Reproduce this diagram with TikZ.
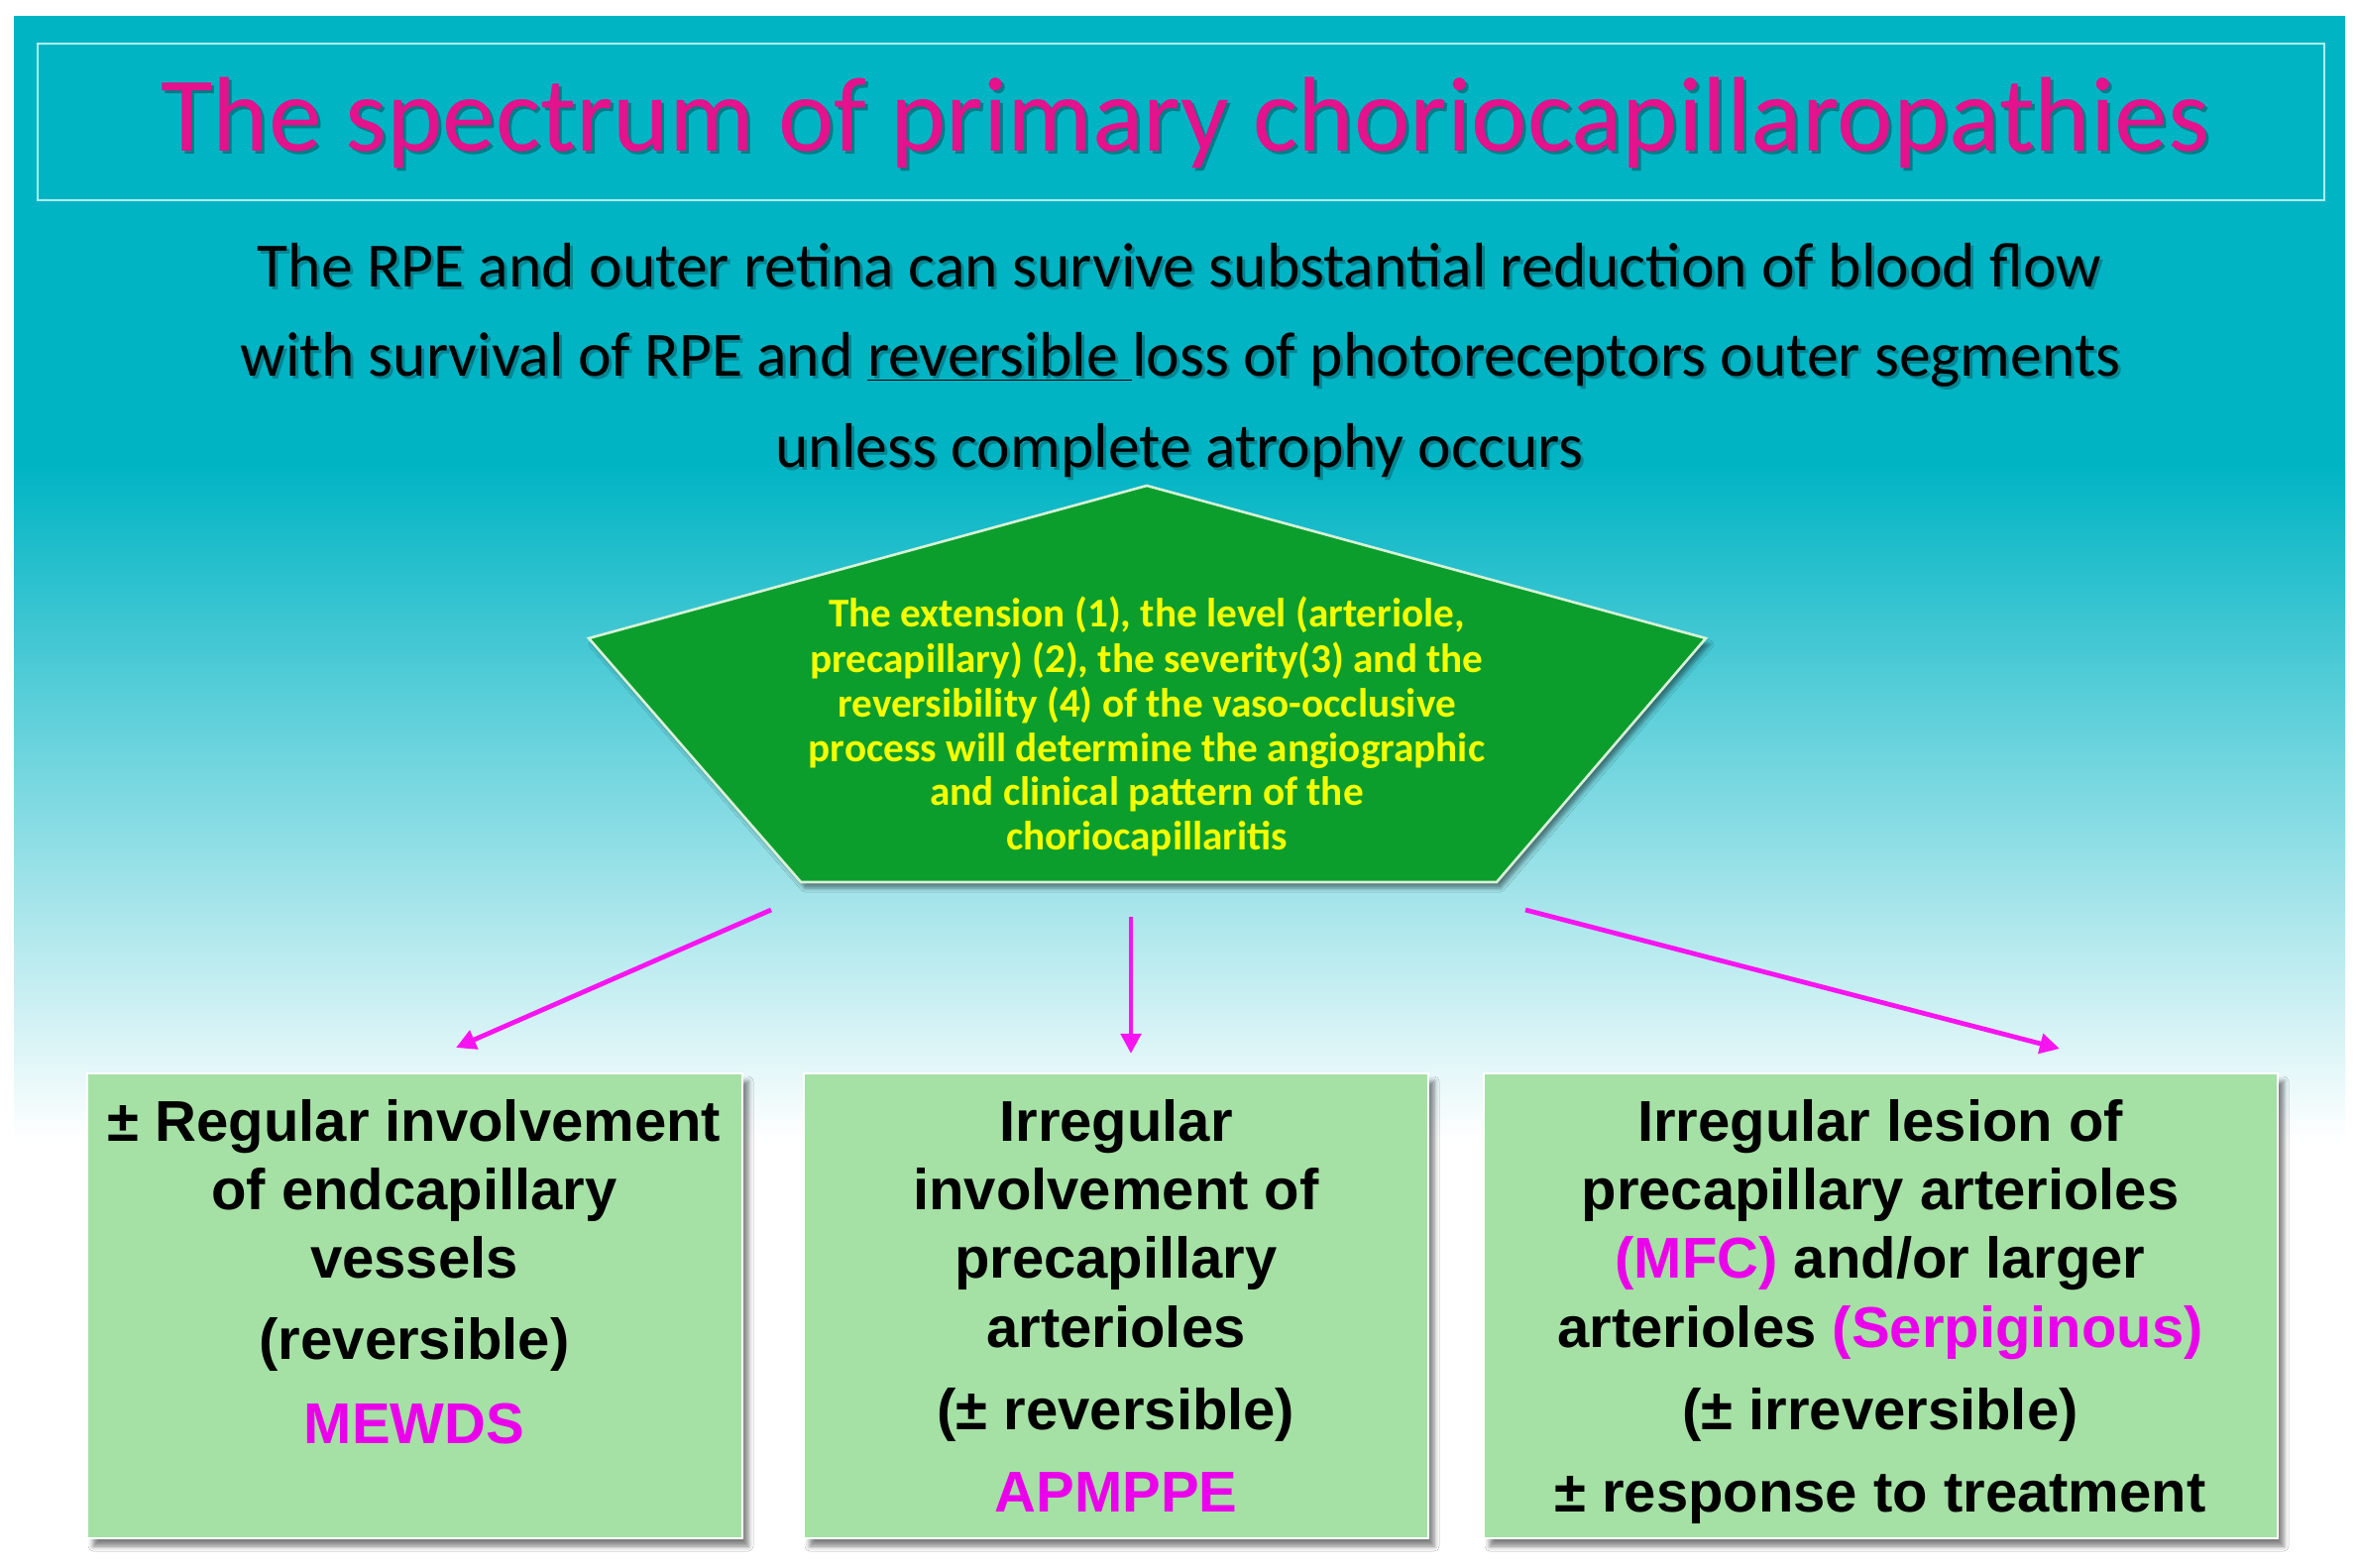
\documentclass[tikz,border=0pt]{standalone}
\usepackage{fontspec}
\setmainfont{Carlito}
\newfontfamily\calfont{Carlito}
\newfontfamily\arialfont{Liberation Sans}
\usetikzlibrary{arrows.meta,shadows.blur}
\definecolor{tealbg}{RGB}{0,180,196}
\definecolor{titleedge}{RGB}{175,240,245}
\definecolor{titlepink}{RGB}{228,18,140}
\definecolor{pgreen}{RGB}{12,158,45}
\definecolor{pedge}{RGB}{215,242,215}
\definecolor{ptext}{RGB}{245,255,0}
\definecolor{boxgreen}{RGB}{165,224,165}
\definecolor{mag}{RGB}{235,0,235}
\definecolor{arrmag}{RGB}{248,20,240}
\begin{document}
\begin{tikzpicture}[x=0.5pt,y=-0.5pt,
  titletxt/.style={anchor=base,inner sep=0,font=\calfont\fontsize{53.6}{60}\selectfont},
  subtxt/.style={anchor=base,inner sep=0,font=\calfont\fontsize{31.8}{36}\selectfont},
  pentxt/.style={anchor=base,inner sep=0,text=ptext,font=\calfont\bfseries\fontsize{20.6}{22}\selectfont},
  btxt/.style={anchor=base,inner sep=0,font=\arialfont\bfseries\fontsize{29}{34}\selectfont},
  gbox/.style={fill=boxgreen,draw=white,line width=1pt,inner sep=0,
    blur shadow={shadow xshift=3pt,shadow yshift=-4pt,shadow blur radius=2.5pt,shadow opacity=50}},
  arr/.style={draw=arrmag,line width=2.4pt,-{Triangle[length=10pt,width=10pt]}},
  shadowtxt/.style={text=black,opacity=0.35}]
\useasboundingbox (0,0) rectangle (2379,1582);
\fill[white] (0,0) rectangle (2379,1582);
% slide background
\fill[tealbg] (14,16) rectangle (2366,470);
\shade[top color=tealbg,bottom color=white] (14,468) rectangle (2366,1150);
% title box
\draw[titleedge,line width=1.4pt] (38,44) rectangle (2345,202);
\node[titletxt,shadowtxt,opacity=0.3] (titlesh) at (1199,156) {The spectrum of primary choriocapillaropathies};
\node[titletxt,text=titlepink] (title) at (1196,153) {The spectrum of primary choriocapillaropathies};
% subtitle
\node[subtxt,shadowtxt,opacity=0.25] (s1sh) at (1193,293) {The RPE and outer retina can survive substantial reduction of blood flow};
\node[subtxt] (s1) at (1190,290) {The RPE and outer retina can survive substantial reduction of blood flow};
\node[subtxt,shadowtxt,opacity=0.25] (s2sh) at (1194,383) {with survival of RPE and reversible\ loss of photoreceptors outer segments};
\node[subtxt] (s2) at (1191,380) {with survival of RPE and \underline{reversible\ }loss of photoreceptors outer segments};
\node[subtxt,shadowtxt,opacity=0.25] (s3sh) at (1193,475) {unless complete atrophy occurs};
\node[subtxt] (s3) at (1190,472) {unless complete atrophy occurs};
% pentagon
\coordinate (pA) at (1157,490);
\coordinate (pB) at (1721,644);
\coordinate (pC) at (1510,890);
\coordinate (pD) at (808,890);
\coordinate (pE) at (594,644);
\draw[fill=pgreen,draw=pedge,line width=1.3pt,
  blur shadow={shadow xshift=2pt,shadow yshift=-3pt,shadow blur radius=2pt,shadow opacity=45}]
  (pA) -- (pB) -- (pC) -- (pD) -- (pE) -- cycle;
\node[pentxt] (p1) at (1157,633) {The extension (1), the level (arteriole,};
\node[pentxt] (p2) at (1157,679) {precapillary) (2), the severity(3) and the};
\node[pentxt] (p3) at (1157,724) {reversibility (4) of the vaso-occlusive};
\node[pentxt] (p4) at (1157,769) {process will determine the angiographic};
\node[pentxt] (p5) at (1157,813) {and clinical pattern of the};
\node[pentxt] (p6) at (1157,858) {choriocapillaritis};
% arrows
\coordinate (a1s) at (778,918);
\coordinate (a1e) at (460,1057);
\coordinate (a2s) at (1141,925);
\coordinate (a2e) at (1141,1063);
\coordinate (a3s) at (1539,918);
\coordinate (a3e) at (2078,1058);
\draw[arr] (a1s) -- (a1e);
\draw[arr] (a2s) -- (a2e);
\draw[arr] (a3s) -- (a3e);
% boxes
\node[gbox,minimum width=330.5pt,minimum height=234.5pt] (box1) at (418.5,1317.5) {};
\node[gbox,minimum width=315pt,minimum height=234.5pt] (box2) at (1126,1317.5) {};
\node[gbox,minimum width=400.5pt,minimum height=234.5pt] (box3) at (1897.5,1317.5) {};
% box 1 text
\node[btxt] (b1a) at (418,1151) {± Regular involvement};
\node[btxt] (b1b) at (418,1220) {of endcapillary};
\node[btxt] (b1c) at (418,1289) {vessels};
\node[btxt] (b1d) at (418,1371) {(reversible)};
\node[btxt,text=mag] (b1e) at (418,1456) {MEWDS};
% box 2 text
\node[btxt] (b2a) at (1126,1151) {Irregular};
\node[btxt] (b2b) at (1126,1220) {involvement of};
\node[btxt] (b2c) at (1126,1289) {precapillary};
\node[btxt] (b2d) at (1126,1359) {arterioles};
\node[btxt] (b2e) at (1126,1442) {(± reversible)};
\node[btxt,text=mag] (b2f) at (1126,1525) {APMPPE};
% box 3 text
\node[btxt] (b3a) at (1897,1151) {Irregular lesion of};
\node[btxt] (b3b) at (1897,1220) {precapillary arterioles};
\node[btxt] (b3c) at (1897,1289) {{\color{mag}(MFC)} and/or larger};
\node[btxt] (b3d) at (1897,1359) {arterioles {\color{mag}(Serpiginous)}};
\node[btxt] (b3e) at (1897,1442) {(± irreversible)};
\node[btxt] (b3f) at (1897,1525) {± response to treatment};
\end{tikzpicture}
\end{document}
